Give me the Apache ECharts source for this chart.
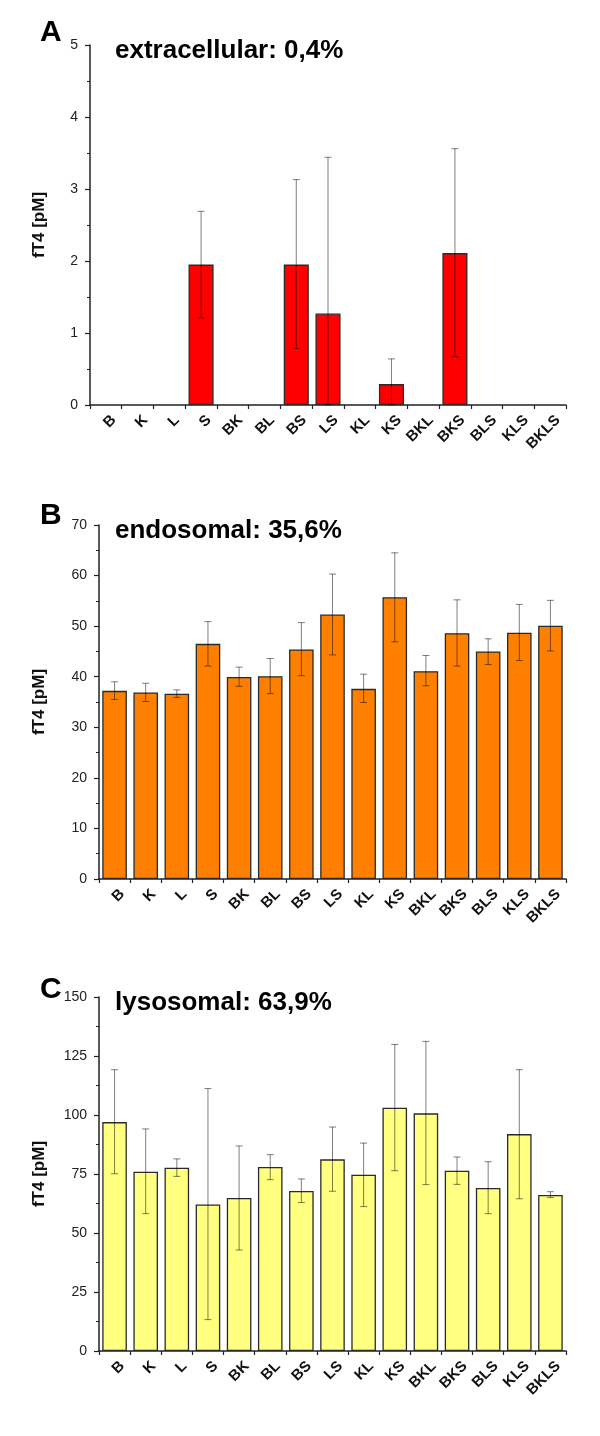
<!DOCTYPE html>
<html><head><meta charset="utf-8">
<script src="https://cdn.jsdelivr.net/npm/echarts@6/dist/echarts.min.js"></script>
<style>html,body{margin:0;padding:0;background:#fff}#c{width:600px;height:1436px}</style>
</head><body><div id="c"></div>
<script>
const categories = ['B','K','L','S','BK','BL','BS','LS','KL','KS','BKL','BKS','BLS','KLS','BKLS'];

// Panel A: extracellular
const valuesA  = [0,0,0,1.95,0,0,1.95,1.27,0,0.29,0,2.11,0,0,0];
const errHighA = [null,null,null,2.69,null,null,3.13,3.44,null,0.64,null,3.56,null,null,null];
const errLowA  = [null,null,null,1.21,null,null,0.785,0,null,0,null,0.67,null,null,null];

// Panel B: endosomal
const valuesB  = [37.2,36.9,36.65,46.5,39.95,40.1,45.4,52.3,37.6,55.7,41.1,48.6,45.0,48.7,50.1];
const errHighB = [39.0,38.7,37.4,50.9,41.9,43.6,50.7,60.3,40.5,64.5,44.2,55.2,47.5,54.3,55.1];
const errLowB  = [35.5,35.1,35.9,42.1,38.1,36.65,40.2,44.3,34.9,46.9,38.2,42.1,42.4,43.2,45.1];

// Panel C: lysosomal
const valuesC  = [97.0,76.0,77.7,62.1,64.8,78.0,67.8,81.2,74.7,103.1,100.7,76.4,69.1,91.9,66.1];
const errHighC = [119.2,94.1,81.4,111.2,86.9,83.2,72.9,94.9,88.1,129.9,131.2,82.2,80.2,119.2,67.5];
const errLowC  = [75.1,58.2,74.0,13.3,42.8,72.6,62.9,67.7,61.2,76.4,70.5,70.6,58.2,64.5,65.0];

const panelLetters = ['A','B','C'];
const panelTitles = ['extracellular: 0,4%','endosomal: 35,6%','lysosomal: 63,9%'];
const yMax = [5,70,150];
const yInterval = [1,10,25];

const FONT = '"Liberation Sans", Arial, sans-serif';
const chart = echarts.init(document.getElementById('c'), null, {renderer:'canvas'});

const grids = [
  {left:90, top:45, width:476, height:360},
  {left:99, top:525, width:467, height:354},
  {left:99, top:997, width:467, height:354}
];
const colors = ['#ff0000','#ff8000','#ffff80'];
const vals = [valuesA, valuesB, valuesC];
const highs = [errHighA, errHighB, errHighC];
const lows = [errLowA, errLowB, errLowC];
const nameGaps = [42, 51, 51];

const xAxes = [], yAxes = [], series = [];
for (let i = 0; i < 3; i++) {
  xAxes.push({
    type:'category', gridIndex:i, data:categories,
    axisLine:{lineStyle:{color:'#222', width:1.5}},
    axisTick:{show:true, length:4, lineStyle:{color:'#222', width:1.2}},
    axisLabel:{rotate:45, margin:5, verticalAlign:'top', lineHeight:22,
      fontFamily:FONT, fontWeight:'bold', fontSize:15, color:'#111', interval:0}
  });
  yAxes.push({
    type:'value', gridIndex:i, min:0, max:yMax[i], interval:yInterval[i],
    name:'fT4 [pM]', nameLocation:'middle', nameGap:nameGaps[i],
    nameTextStyle:{fontFamily:FONT, fontWeight:'bold', fontSize:17, color:'#111'},
    axisLine:{show:true, lineStyle:{color:'#222', width:1.5}},
    axisTick:{show:true, length:5, lineStyle:{color:'#222', width:1.2}},
    minorTick:{show:true, splitNumber:2, length:3, lineStyle:{color:'#222', width:1}},
    splitLine:{show:false},
    axisLabel:{fontFamily:FONT, fontSize:14, color:'#222', margin:12}
  });
  series.push({
    type:'bar', xAxisIndex:i, yAxisIndex:i,
    data: vals[i].map(v => v === 0 ? '-' : v),
    barCategoryGap:'21%',
    itemStyle:{color:colors[i], borderColor:'#2a2a2a', borderWidth:1.3},
    silent:true
  });
  const ebData = categories.map((c, k) => highs[i][k] == null ? null : [k, lows[i][k], highs[i][k]]).filter(d => d);
  series.push({
    type:'custom', xAxisIndex:i, yAxisIndex:i, data:ebData, z:5, silent:true,
    renderItem:function(params, api){
      const x = api.value(0);
      const lo = api.coord([x, api.value(1)]);
      const hi = api.coord([x, api.value(2)]);
      const hw = 3.5;
      const st = {stroke:'rgba(0,0,0,0.5)', lineWidth:1};
      return {type:'group', children:[
        {type:'line', shape:{x1:hi[0], y1:hi[1], x2:lo[0], y2:lo[1]}, style:st},
        {type:'line', shape:{x1:hi[0]-hw, y1:hi[1], x2:hi[0]+hw, y2:hi[1]}, style:st},
        {type:'line', shape:{x1:lo[0]-hw, y1:lo[1], x2:lo[0]+hw, y2:lo[1]}, style:st}
      ]};
    }
  });
}

const letterY = [33, 516, 990];
const titleY = [51, 531, 1003];
const graphics = [];
for (let i = 0; i < 3; i++) {
  graphics.push({type:'text', x:40, y:letterY[i], style:{text:panelLetters[i], font:'bold 30px ' + FONT, fill:'#000', verticalAlign:'middle'}});
  graphics.push({type:'text', x:115, y:titleY[i], style:{text:panelTitles[i], font:'bold 26px ' + FONT, fill:'#000', verticalAlign:'middle'}});
}

chart.setOption({
  animation:false,
  backgroundColor:'#fff',
  grid:grids, xAxis:xAxes, yAxis:yAxes, series:series, graphic:graphics
});
</script></body></html>
